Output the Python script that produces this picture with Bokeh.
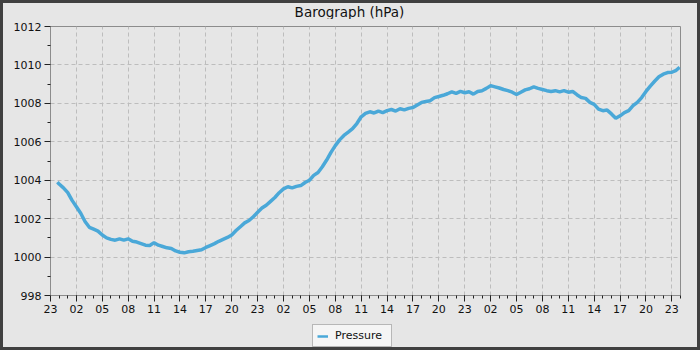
from bokeh.plotting import figure
from bokeh.models import FixedTicker, Legend, LegendItem, Range1d, Label
from bokeh.layouts import column
from bokeh.embed import file_html
from bokeh.resources import INLINE

# hours since the first "23" tick
hours = [0.8, 1.0, 1.5, 2.0, 2.5, 3.0, 3.5, 4.0, 4.5, 5.0, 5.5, 6.0, 6.5, 7.0, 7.5, 8.0, 8.5, 9.0, 9.5,
         10.0, 10.5, 11.0, 11.5, 12.0, 12.5, 13.0, 13.5, 14.0, 14.5, 15.0, 15.5, 16.0, 16.5, 17.0, 17.5,
         18.0, 18.5, 19.0, 19.5, 20.0, 20.5, 21.0, 21.5, 22.0, 22.5, 23.0, 23.5, 24.0, 24.5, 25.0, 25.5,
         26.0, 26.5, 27.0, 27.5, 28.0, 28.5, 29.0, 29.5, 30.0, 30.5, 31.0, 31.5, 32.0, 32.5, 33.0, 33.5,
         34.0, 34.5, 35.0, 35.5, 36.0, 36.5, 37.0, 37.5, 38.0, 38.5, 39.0, 39.5, 40.0, 40.5, 41.0, 41.5,
         42.0, 42.5, 43.0, 43.5, 44.0, 44.5, 45.0, 45.5, 46.0, 46.5, 47.0, 47.5, 48.0, 48.5, 49.0, 49.5,
         50.0, 50.5, 51.0, 51.5, 52.0, 52.5, 53.0, 53.5, 54.0, 54.5, 55.0, 55.5, 56.0, 56.5, 57.0, 57.5,
         58.0, 58.5, 59.0, 59.5, 60.0, 60.5, 61.0, 61.5, 62.0, 62.5, 63.0, 63.5, 64.0, 64.5, 65.0, 65.5,
         66.0, 66.5, 67.0, 67.5, 68.0, 68.5, 69.0, 69.5, 70.0, 70.5, 71.0, 71.5, 72.0, 72.5, 72.9]

pressure = [1003.90, 1003.80, 1003.60, 1003.35, 1002.95, 1002.62, 1002.28, 1001.85, 1001.55, 1001.45,
            1001.35, 1001.15, 1001.00, 1000.92, 1000.88, 1000.95, 1000.88, 1000.95, 1000.82, 1000.78,
            1000.70, 1000.62, 1000.60, 1000.75, 1000.62, 1000.55, 1000.48, 1000.45, 1000.32, 1000.25,
            1000.22, 1000.28, 1000.30, 1000.34, 1000.38, 1000.50, 1000.60, 1000.70, 1000.82, 1000.92,
            1001.02, 1001.15, 1001.38, 1001.58, 1001.78, 1001.90, 1002.10, 1002.33, 1002.55, 1002.70,
            1002.90, 1003.10, 1003.35, 1003.55, 1003.66, 1003.60, 1003.68, 1003.72, 1003.88, 1004.00,
            1004.25, 1004.40, 1004.70, 1005.05, 1005.45, 1005.80, 1006.10, 1006.33, 1006.50, 1006.68,
            1006.95, 1007.30, 1007.48, 1007.56, 1007.50, 1007.60, 1007.52, 1007.62, 1007.68, 1007.60,
            1007.72, 1007.66, 1007.74, 1007.78, 1007.92, 1008.05, 1008.10, 1008.14, 1008.30, 1008.36,
            1008.42, 1008.50, 1008.60, 1008.52, 1008.62, 1008.55, 1008.60, 1008.48, 1008.62, 1008.66,
            1008.78, 1008.92, 1008.86, 1008.80, 1008.72, 1008.66, 1008.58, 1008.46, 1008.58, 1008.70,
            1008.76, 1008.86, 1008.78, 1008.72, 1008.66, 1008.62, 1008.66, 1008.60, 1008.66, 1008.58,
            1008.62, 1008.45, 1008.30, 1008.26, 1008.05, 1007.95, 1007.70, 1007.62, 1007.65, 1007.45,
            1007.22, 1007.35, 1007.52, 1007.62, 1007.88, 1008.05, 1008.30, 1008.62, 1008.90, 1009.15,
            1009.38, 1009.52, 1009.60, 1009.62, 1009.72, 1009.88]

x_tick_pos = [0, 3, 6, 9, 12, 15, 18, 21, 24, 27, 30, 33, 36, 39, 42, 45, 48, 51, 54, 57, 60, 63, 66, 69, 72]
x_tick_labels = ["23", "02", "05", "08", "11", "14", "17", "20",
                 "23", "02", "05", "08", "11", "14", "17", "20",
                 "23", "02", "05", "08", "11", "14", "17", "20", "23"]
x_minor = list(range(0, 74))
y_ticks = [998, 1000, 1002, 1004, 1006, 1008, 1010, 1012]
y_minor = [999, 1001, 1003, 1005, 1007, 1009, 1011]
title_text = "Barograph (hPa)"
series_name = "Pressure"

BG = "#e6e6e6"
AX = "#8c8c8c"
LINE = "#4aa8d8"


def strip(h, xr):
    f = figure(width=694, height=h, x_range=xr, y_range=Range1d(0, 1),
               output_backend="svg", toolbar_location=None,
               x_axis_location=None, y_axis_location=None,
               background_fill_color=BG, border_fill_color=BG,
               min_border_left=0, min_border_right=0, min_border_top=0, min_border_bottom=0)
    f.outline_line_color = None
    f.grid.visible = False
    return f


# title strip
top = strip(16, Range1d(0, 1))
top.add_layout(Label(x=299, y=7.5, x_units="screen", y_units="screen", text=title_text,
                     text_align="center", text_baseline="middle",
                     text_font="DejaVu Sans", text_font_size="13.5px", text_color="#111111"))

p = figure(width=694, height=303,
           x_range=Range1d(0, 73), y_range=Range1d(998, 1012),
           output_backend="svg", toolbar_location=None,
           background_fill_color=BG, border_fill_color=BG,
           min_border_left=47, min_border_right=17, min_border_top=7, min_border_bottom=27)
p.outline_line_color = AX

p.xaxis.ticker = FixedTicker(ticks=x_tick_pos, minor_ticks=x_minor)
p.xaxis.major_label_overrides = {t: l for t, l in zip(x_tick_pos, x_tick_labels)}
p.yaxis.ticker = FixedTicker(ticks=y_ticks, minor_ticks=y_minor)

for ax in (p.xaxis[0], p.yaxis[0]):
    ax.axis_line_color = AX
    ax.major_tick_line_color = "#222222"
    ax.minor_tick_line_color = "#222222"
    ax.major_tick_in = 0
    ax.major_tick_out = 6
    ax.minor_tick_in = 0
    ax.minor_tick_out = 3
    ax.major_label_text_font = "DejaVu Sans"
    ax.major_label_text_font_size = "11px"
    ax.major_label_text_color = "#111111"
    ax.major_label_standoff = 3

p.xgrid.ticker = FixedTicker(ticks=x_tick_pos)
p.ygrid.ticker = FixedTicker(ticks=y_ticks)
for g in (p.xgrid[0], p.ygrid[0]):
    g.grid_line_color = "#bdbdbd"
    g.grid_line_dash = "4 3"
    g.grid_line_width = 1

p.line(hours, pressure, line_color=LINE, line_width=3.5)

# legend strip (its copy of the series sits outside the strip's range)
leg = strip(25, Range1d(-20, -10))
key = leg.line(hours, pressure, line_color=LINE, line_width=2.5)
legend = Legend(items=[LegendItem(label=series_name, renderers=[key])],
                location=(262, 0), orientation="horizontal",
                background_fill_color="#f5f5f5", background_fill_alpha=1,
                border_line_color="#7a7a7a", border_line_width=1,
                label_text_font="DejaVu Sans", label_text_font_size="11px",
                label_text_color="#111111",
                glyph_width=11, glyph_height=12, label_height=12, label_width=52,
                label_standoff=7, padding=4, margin=0, spacing=0)
leg.add_layout(legend)

page = column(top, p, leg, spacing=0)
page.styles = {"border": "3px solid #404040", "background-color": BG}

open("out.html", "w").write(file_html(page, INLINE))
